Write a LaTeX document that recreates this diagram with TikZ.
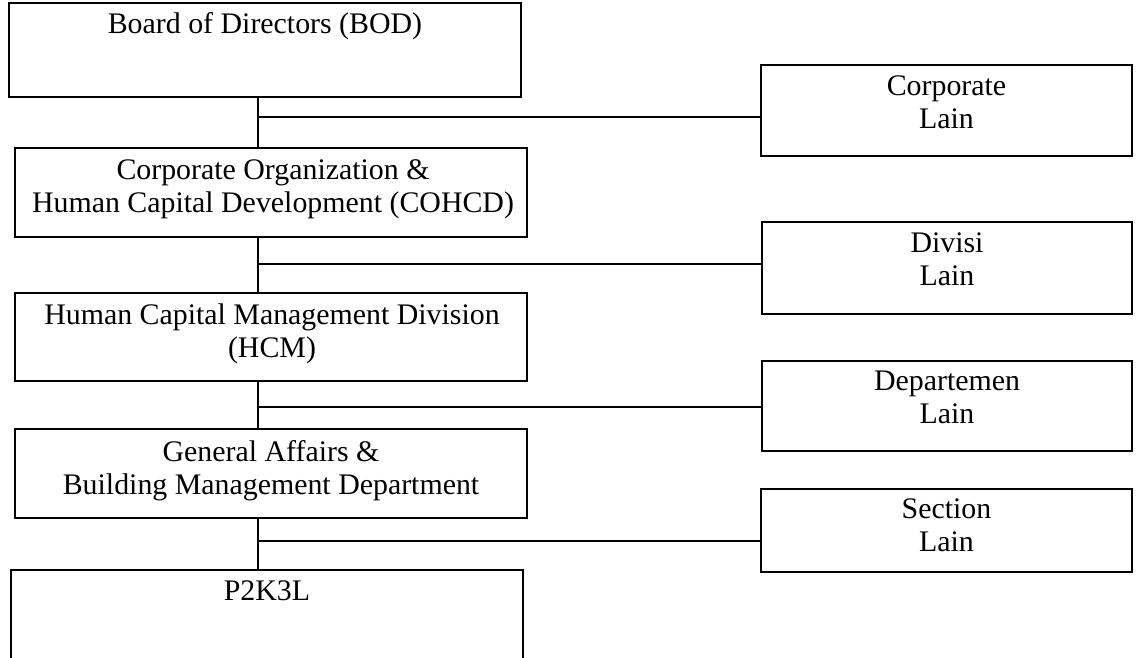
\documentclass[tikz,border=0pt]{standalone}
\usepackage{fontspec}
\setmainfont{Liberation Serif}
\usepackage{tikz}

\tikzset{
  unit/.style={draw, line width=0.7pt, inner sep=0pt},
  txt/.style={anchor=north, align=center, inner sep=0pt, font=\fontsize{17pt}{18.8pt}\selectfont},
  link/.style={line width=0.7pt}
}

\begin{document}
\begin{tikzpicture}[x=0.02cm, y=-0.02cm]
	\useasboundingbox (0,0) rectangle (1136,657);
	\clip (0,0) rectangle (1136,657);
	% left column
	\node[unit, minimum width=10.24cm, minimum height=1.88cm] (bod) at (265,50) {};
	\node[unit, minimum width=10.24cm, minimum height=1.78cm] (cohcd) at (271,192.5) {};
	\node[unit, minimum width=10.24cm, minimum height=1.76cm] (hcm) at (271,337) {};
	\node[unit, minimum width=10.24cm, minimum height=1.78cm] (ga) at (271,473.5) {};
	\node[unit, minimum width=10.24cm, minimum height=2.6cm] (p2k3l) at (267,635) {};
	\node[txt] (bodtxt) at (265,12) {Board of Directors (BOD)};
	\node[txt] (cohcdtxt) at (273,159) {Corporate Organization \&\\Human Capital Development (COHCD)};
	\node[txt] (hcmtxt) at (272,303) {Human Capital Management Division\\(HCM)};
	\node[txt] (gatxt) at (271,440) {General Affairs \&\\Building Management Department};
	\node[txt] (p2k3ltxt) at (267,580) {P2K3L};
	% right column
	\node[unit, minimum width=7.42cm, minimum height=1.82cm] (corp) at (946.5,110.5) {};
	\node[unit, minimum width=7.4cm, minimum height=1.84cm] (divisi) at (947,268) {};
	\node[unit, minimum width=7.4cm, minimum height=1.8cm] (dept) at (947,406) {};
	\node[unit, minimum width=7.42cm, minimum height=1.66cm] (section) at (946.5,530.5) {};
	\node[txt] (corptxt) at (946.5,75) {Corporate\\Lain};
	\node[txt] (divisitxt) at (947,232) {Divisi\\Lain};
	\node[txt] (depttxt) at (947,371) {Departemen\\Lain};
	\node[txt] (sectiontxt) at (946.5,498) {Section\\Lain};
	% connectors
	\coordinate (j1) at (258,117);
	\coordinate (j2) at (258,264);
	\coordinate (j3) at (258,407);
	\coordinate (j4) at (258,541);
	\draw[link] (bod.south -| j1) -- (cohcd.north -| j1);
	\draw[link] (cohcd.south -| j2) -- (hcm.north -| j2);
	\draw[link] (hcm.south -| j3) -- (ga.north -| j3);
	\draw[link] (ga.south -| j4) -- (p2k3l.north -| j4);
	\draw[link] (j1) -- (j1 -| corp.west);
	\draw[link] (j2) -- (j2 -| divisi.west);
	\draw[link] (j3) -- (j3 -| dept.west);
	\draw[link] (j4) -- (j4 -| section.west);
\end{tikzpicture}
\end{document}
